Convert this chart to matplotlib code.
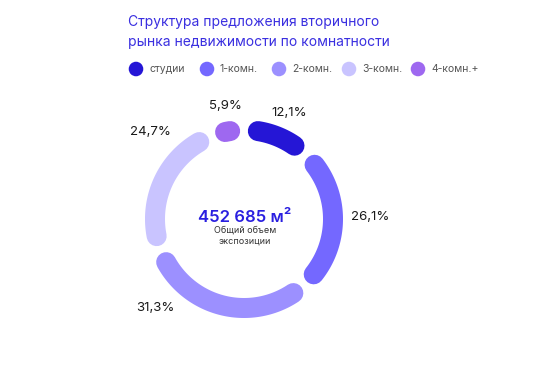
import numpy as np
import matplotlib.pyplot as plt

# данные
categories = ["студии", "1-комн.", "2-комн.", "3-комн.", "4-комн.+"]
shares = [12.1, 26.1, 31.3, 24.7, 5.9]
labels = ["12,1%", "26,1%", "31,3%", "24,7%", "5,9%"]
colors = ["#2516d6", "#7468ff", "#9c90ff", "#c9c4ff", "#9e68f0"]
total_label = "452 685 м²"

plt.rcParams['font.family'] = ['Inter', 'DejaVu Sans']

W, H = 560, 378
fig = plt.figure(figsize=(W / 100, H / 100), dpi=100)
ax = fig.add_axes([0, 0, 1, 1])
ax.set_xlim(0, W)
ax.set_ylim(H, 0)
ax.set_aspect('equal')
ax.axis('off')

# кольцо
cx, cy, r = 244, 219, 89
lw_px = 20
gap = 2.5  # градусы с каждой стороны
cap = np.degrees((lw_px / 2) / r)

start = 90.0
for val, col in zip(shares, colors):
    span = val / sum(shares) * 360
    a0 = start - gap - cap
    a1 = start - span + gap + cap
    t = np.radians(np.linspace(a0, a1, 100))
    ax.plot(cx + r * np.cos(t), cy - r * np.sin(t), color=col,
            lw=lw_px * 0.72, solid_capstyle='round')
    start -= span

# подписи процентов
label_pos = [(289, 113), (370, 217), (155, 308), (150, 132), (225, 106)]
for (x, y), txt in zip(label_pos, labels):
    ax.text(x, y, txt, fontsize=9.5, color="#1a1a1a", ha='center', va='center')

# центр
ax.text(245, 217, total_label, fontsize=12, color="#2a1fe0", fontweight='semibold',
        ha='center', va='center')
ax.text(245, 230, "Общий объем", fontsize=6.5, color="#333333", ha='center', va='center')
ax.text(245, 241, "экспозиции", fontsize=6.5, color="#333333", ha='center', va='center')

# заголовок
ax.text(128, 22, "Структура предложения вторичного", fontsize=10, color="#3a2fe0",
        ha='left', va='center')
ax.text(128, 42, "рынка недвижимости по комнатности", fontsize=10, color="#3a2fe0",
        ha='left', va='center')

# легенда
leg_x = [136, 207, 279, 349, 418]
for x, col, name in zip(leg_x, colors, categories):
    ax.scatter([x], [69], s=110, color=col, edgecolors='none')
    ax.text(x + 13, 69, name, fontsize=7.5, color="#555555", ha='left', va='center')

plt.savefig("out.png", dpi=100)
